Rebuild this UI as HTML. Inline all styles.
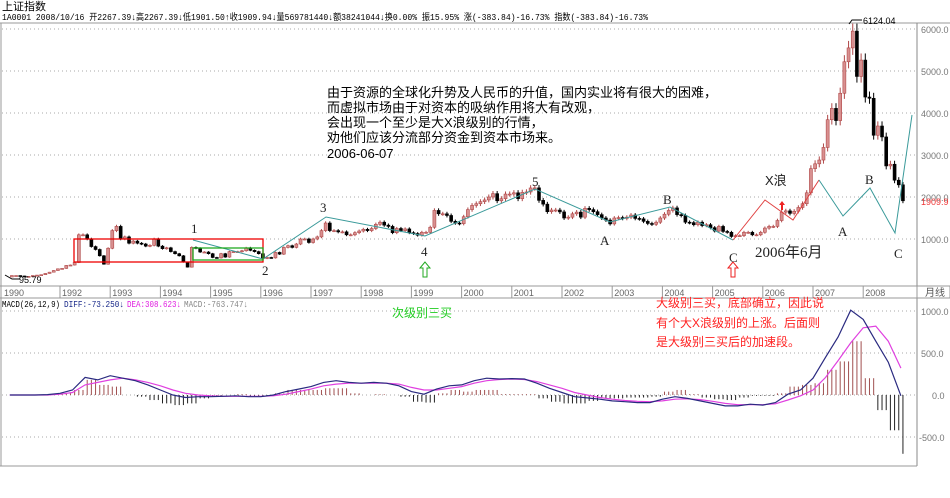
<!DOCTYPE html>
<html><head><meta charset="utf-8"><style>
body{margin:0;background:#fff;width:950px;height:498px;overflow:hidden}
svg{display:block;font-family:"Liberation Sans","WenQuanYi Zen Hei","Noto Sans CJK SC",sans-serif}
</style></head><body>
<svg id="c" width="950" height="498" viewBox="0 0 950 498">
<g>
<text x="2" y="10" font-size="11" fill="#000">上证指数</text>
<text x="2" y="20" font-size="9" fill="#000" textLength="646" lengthAdjust="spacingAndGlyphs" font-family="Liberation Mono,'WenQuanYi Zen Hei',monospace">1A0001 2008/10/16 开2267.39↓高2267.39↓低1901.50↑收1909.94↓量569781440↓额38241044↓换0.00% 振15.95% 涨(-383.84)-16.73% 指数(-383.84)-16.73%</text>
</g>
<line x1="0" y1="23" x2="950" y2="23" stroke="#999"/>
<line x1="1" y1="23" x2="1" y2="466" stroke="#999"/>
<line x1="917" y1="23" x2="917" y2="466" stroke="#888"/>
<line x1="0" y1="286" x2="950" y2="286" stroke="#999"/>
<line x1="0" y1="298" x2="950" y2="298" stroke="#999"/>
<line x1="0" y1="466" x2="917" y2="466" stroke="#999"/>
<rect x="917" y="286" width="33" height="12" fill="none" stroke="#999"/>
<text x="925" y="296" font-size="10" fill="#555">月线</text>
<g id="grid"></g><g id="yr"></g><g id="ax"></g><g id="candles"></g><g id="macd"></g><g id="wave"></g>
<g font-size="13" fill="#000">
<text x="327" y="97">由于资源的全球化升势及人民币的升值，国内实业将有很大的困难，</text>
<text x="327" y="112">而虚拟市场由于对资本的吸纳作用将大有改观，</text>
<text x="327" y="127">会出现一个至少是大X浪级别的行情，</text>
<text x="327" y="142">劝他们应该分流部分资金到资本市场来。</text>
<text x="327" y="158">2006-06-07</text>
</g>
<g font-size="13" fill="#222" font-family="Liberation Serif,'WenQuanYi Zen Hei',serif">
<text x="191" y="233">1</text><text x="262" y="275">2</text><text x="320" y="212">3</text><text x="421" y="256">4</text><text x="532" y="186">5</text>
<text x="600" y="245">A</text><text x="663" y="204">B</text><text x="729" y="262">C</text>
<text x="765" y="185" font-family="Liberation Sans,'WenQuanYi Zen Hei',sans-serif">X浪</text>
<text x="755" y="257" font-size="15">2006年6月</text>
<text x="838" y="236">A</text><text x="865" y="184">B</text><text x="894" y="258">C</text>
</g>
<g font-size="9" font-family="Liberation Mono,monospace">
<text x="2" y="307" fill="#000" textLength="58" lengthAdjust="spacingAndGlyphs">MACD(26,12,9)</text>
<text x="64" y="307" fill="#1a2a8a" textLength="60" lengthAdjust="spacingAndGlyphs">DIFF:-73.250↓</text>
<text x="127" y="307" fill="#e020e0" textLength="54" lengthAdjust="spacingAndGlyphs">DEA:308.623↓</text>
<text x="184" y="307" fill="#888" textLength="64" lengthAdjust="spacingAndGlyphs">MACD:-763.747↓</text>
</g>
<text x="392" y="317" font-size="12" fill="#2c2">次级别三买</text>
<g font-size="12" fill="#f22">
<text x="656" y="307">大级别三买，底部确立，因此说</text>
<text x="656" y="327">有个大X浪级别的上涨。后面则</text>
<text x="656" y="346">是大级别三买后的加速段。</text>
</g>
</svg>
<script>
const years=[1991,1992,1993,1994,1995,1996,1997,1998,1999,2000,2001,2002,2003,2004,2005,2006,2007,2008];
const closes=[
[130,130,120,110,110,130,140,150,180,210,250,290],
[300,370,380,440,1100,1100,1000,820,750,600,400,780],
[1200,1300,1000,1050,900,950,900,880,830,850,1000,830],
[770,790,700,650,600,450,330,800,780,690,690,650],
[560,550,650,570,700,700,700,720,790,730,700,650],
[537,560,550,680,640,800,840,800,880,1000,1000,917],
[1000,1050,1200,1380,1200,1200,1170,1170,1100,1100,1150,1190],
[1230,1200,1250,1350,1400,1330,1300,1150,1250,1200,1240,1150],
[1130,1090,1160,1160,1280,1680,1600,1600,1560,1420,1380,1366],
[1530,1700,1800,1840,1890,1930,2000,2080,1910,1960,2070,2070],
[2100,1960,2110,2120,2215,2218,1920,1830,1650,1690,1690,1645],
[1500,1520,1600,1640,1520,1730,1700,1650,1580,1500,1450,1360],
[1500,1510,1490,1520,1570,1490,1480,1420,1370,1350,1400,1500],
[1590,1680,1740,1580,1560,1400,1390,1340,1400,1320,1340,1270],
[1190,1300,1180,1160,1060,1080,1080,1160,1160,1100,1100,1160],
[1260,1300,1300,1440,1640,1670,1610,1660,1750,1840,2100,2675],
[2790,2880,3180,3840,4110,3820,4470,5220,5550,5950,4870,5260],
[4380,4350,3470,3690,3430,2740,2780,2400,2290,1910]];
const priceTicks=[1000,2000,3000,4000,5000,6000];
const macdTicks=[1000,500,0,-500];
const diff=[0,0,0,5,20,60,210,180,230,200,170,120,60,0,-30,-20,-20,-15,-10,-20,-20,0,40,70,100,150,170,150,140,150,140,110,40,10,70,110,120,170,200,190,195,190,140,80,30,-20,-35,-50,-70,-80,-90,-90,-50,-20,-40,-70,-100,-130,-130,-110,-120,-90,10,60,200,450,690,1010,900,640,390,-10];
const dea=[0,0,0,0,10,30,120,150,180,200,180,150,110,60,20,0,-10,-15,-15,-15,-15,-10,10,40,70,110,130,140,140,140,140,130,90,60,60,80,100,140,170,185,190,185,160,120,80,30,0,-30,-50,-65,-75,-80,-70,-50,-45,-55,-75,-100,-115,-115,-115,-105,-60,-10,60,210,410,620,800,820,640,320];
const hist=[0,0,0,5,20,60,180,120,100,0,-20,-60,-100,-120,-100,-40,-20,0,10,-10,-10,20,60,60,60,80,80,20,0,10,0,-20,-80,-90,20,60,40,60,60,10,10,10,-40,-80,-100,-100,-70,-40,-40,-30,-30,-20,40,60,10,-30,-50,-60,-30,-10,-10,20,100,120,140,300,400,640,200,-180,-420,-700];
const NS="http://www.w3.org/2000/svg";
function X(t){return 60+(t-1992)*50.2;}
function PY(p){return 239-(p-1000)*0.042;}
function MY(v){return 395-v*0.084;}
function mk(parent,tag,attrs){const e=document.createElementNS(NS,tag);for(const k in attrs)e.setAttribute(k,attrs[k]);document.getElementById(parent).appendChild(e);return e;}
priceTicks.forEach(p=>{const l=mk('grid','line',{x1:2,x2:917,y1:PY(p),y2:PY(p),stroke:'#aaa','stroke-dasharray':'1,3'});


const t=mk('ax','text',{x:921,y:PY(p)+4,'font-size':9,fill:'#777'});t.textContent=p.toFixed(1);

});
macdTicks.forEach(v=>{const l=mk('grid','line',{x1:2,x2:917,y1:MY(v),y2:MY(v),stroke:'#aaa','stroke-dasharray':'1,3'});


const t=mk('ax','text',{x:v<0?919:(v==0?932:921),y:MY(v)+4,'font-size':9,fill:'#777'});t.textContent=v.toFixed(1);

});
const yl=mk('yr','text',{x:4,y:296,'font-size':9,fill:'#666'});yl.textContent='1990';


years.slice(1).forEach(y=>{const l=mk('yr','line',{x1:X(y),x2:X(y),y1:286,y2:298,stroke:'#999'});


const t=mk('yr','text',{x:X(y)+2,y:296,'font-size':9,fill:'#666'});t.textContent=y;

});
const lp=mk('ax','text',{x:921,y:PY(closes[17][9])+4,'font-size':9,fill:'#e33'});lp.textContent='1909.9';


let prev=96;
years.forEach((y,yi)=>{closes[yi].forEach((c,m)=>{
 const x=X(y+m/12+1/24),o=prev,up=c>=o;
 const hi=Math.max(o,c)*1.03,lo=Math.min(o,c)*0.97;
 const col=up?'#b04848':'#000';
 const w=mk('candles','line',{x1:x,x2:x,y1:PY(hi),y2:PY(lo),stroke:col,'stroke-width':1});
 
 
 const top=PY(Math.max(o,c)),h=Math.max(1,PY(Math.min(o,c))-top);
 const r=mk('candles','rect',{x:x-1.5,y:top,width:3,height:h,fill:up?'#d89090':'#000',stroke:col,'stroke-width':0.6});
 
 
 prev=c;});});
hist.forEach((v,i)=>{for(let k=0;k<3;k++){const t=1991+i*0.25+k/12+1/24;if(t>2008.8)continue;
 const b=mk('macd','line',{x1:X(t),x2:X(t),y1:MY(0),y2:MY(v),stroke:v>=0?'#a05050':'#222','stroke-width':1});
 
 }});
function path(arr,col,name){let d='';arr.forEach((v,i)=>{d+=(i?'L':'M')+X(1991+i*0.25).toFixed(1)+','+MY(v).toFixed(1);});
 const p=mk('macd','path',{d:d,fill:'none',stroke:col,'stroke-width':1.2});
 
 }
path(dea,'#e040e0','dea-line');path(diff,'#2a2a80','diff-line');
function poly(pts,col,name){const p=mk('wave','polyline',{points:pts.map(q=>q.join(',')).join(' '),fill:'none',stroke:col,'stroke-width':1});
 
 }
poly([[193,240],[263,259],[326,217],[425,236],[535,189],[610,222],[670,207],[733,240]],'#3a9a9a','wave-line-1');
poly([[733,240],[765,200],[793,220],[819,180]],'#e04040','x-wave-line');
poly([[819,180],[843,216],[870,188],[895,233],[912,115]],'#3a9a9a','wave-line-2');
const rb=mk('wave','rect',{x:74,y:239,width:189,height:23,fill:'none',stroke:'#e00','stroke-width':1.3});


const gb=mk('wave','rect',{x:193,y:248,width:70,height:12,fill:'none',stroke:'#2a2','stroke-width':1.3});


function arrow(x,y,col,name){const p=mk('wave','path',{d:`M${x},${y} l-5,6 h3 v9 h4 v-9 h3 z`,fill:'none',stroke:col,'stroke-width':1});
 
 }
arrow(425,262,'#2a2','green-arrow');arrow(733,262,'#e22','red-arrow');
const sa=mk('wave','path',{d:'M782,201 l-3,4 h2 v5 h2 v-5 h2 z',fill:'#e22'});


const pl=mk('wave','polyline',{points:'849,24 852,20 862,20',fill:'none',stroke:'#000'});


const pt=mk('wave','text',{x:863,y:24,'font-size':9,fill:'#000'});pt.textContent='6124.04';


const ll=mk('wave','polyline',{points:'5,275 12,279 20,279',fill:'none',stroke:'#000'});


const lt=mk('wave','text',{x:19,y:283,'font-size':9,fill:'#000'});lt.textContent='95.79';


</script>
</body></html>
